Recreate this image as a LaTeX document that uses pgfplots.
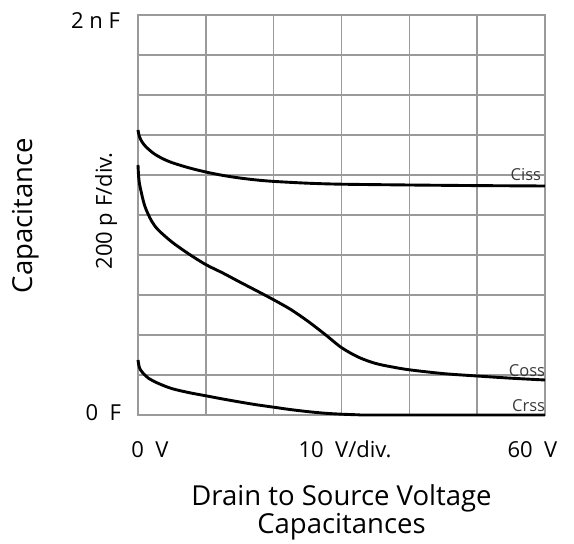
\documentclass[border=0pt]{standalone}
\usepackage{fontspec}
\setmainfont{Open Sans}
\usepackage{pgfplots}
\pgfplotsset{compat=1.18}
\definecolor{gridc}{HTML}{9A9A9A}
\definecolor{lblc}{HTML}{3A3A3A}
\begin{document}
\begin{tikzpicture}
\useasboundingbox (-138pt,-129pt) rectangle (436pt,415pt);
\begin{axis}[at={(0pt,0pt)}, anchor=south west, scale only axis,
  width=407pt, height=400pt,
  xmin=0, xmax=60, ymin=0, ymax=2000,
  xtick={0,10,...,60}, ytick={0,200,...,2000},
  xticklabels={}, yticklabels={},
  major tick length=0pt,
  grid=major, grid style={draw=gridc, line width=1.4pt},
  axis line style={draw=gridc, line width=1.6pt},
  clip=false]
\addplot[black, line width=2.9pt, smooth, tension=0.5] coordinates {
(0,1425) (0.2,1393) (0.6,1365) (1.2,1340) (2.3,1308) (3.5,1284) (5,1262)
(7.5,1236) (10,1215) (12.5,1198) (15,1185) (17.5,1175) (20,1168) (25,1159)
(30,1154) (40,1150) (50,1147) (60,1145)};
\addplot[black, line width=2.9pt, smooth, tension=0.5] coordinates {
(0,1250) (0.1,1190) (0.3,1142) (1,1045) (2,970) (3,925) (5,865) (7.5,805)
(10,752) (12.5,710) (15,665) (17.5,621) (20,576) (22.5,528) (25,470)
(27.5,405) (30,337) (32.5,289) (35,258) (37.5,240) (40,226) (45,207)
(50,195) (55,184) (60,175)};
\addplot[black, line width=2.9pt, smooth, tension=0.5] coordinates {
(0,275) (0.2,238) (0.6,215) (1.5,185) (3,158) (5,132) (7.5,112) (10,96)
(12.5,80) (15,65) (17.5,51) (20,39) (22.5,27) (25,17) (27.5,9) (30,4)
(32.5,1) (35,0) (60,0)};
\end{axis}
\begin{scope}[every node/.style={inner sep=0pt, outer sep=0pt}]
\node[anchor=base east, font=\fontsize{16.5}{18}\selectfont, text=lblc] at (403pt,234pt) {Ciss};
\node[anchor=base east, font=\fontsize{16.5}{18}\selectfont, text=lblc] at (407pt,38pt) {Coss};
\node[anchor=base east, font=\fontsize{16.5}{18}\selectfont, text=lblc] at (407pt,3pt) {Crss};
\node[anchor=base east, font=\fontsize{22}{24}\selectfont] at (-18pt,386pt) {2 n F};
\node[anchor=base east, font=\fontsize{22}{24}\selectfont] at (-17pt,-6pt) {0~~F};
\node[anchor=base, font=\fontsize{22}{24}\selectfont] at (12pt,-43pt) {0~~V};
\node[anchor=base, font=\fontsize{22}{24}\selectfont] at (207pt,-43pt) {10~~V/div.};
\node[anchor=base, font=\fontsize{22}{24}\selectfont] at (394.5pt,-43pt) {60~~V};
\node[anchor=base, rotate=90, font=\fontsize{22}{24}\selectfont] at (-26pt,204pt) {200 p F/div.};
\node[anchor=base, rotate=90, font=\fontsize{27.5}{28}\selectfont] at (-105pt,199.5pt) {Capacitance};
\node[anchor=base, font=\fontsize{27.5}{28}\selectfont] at (203.5pt,-91pt) {Drain to Source Voltage};
\node[anchor=base, font=\fontsize{27.5}{28}\selectfont] at (203.5pt,-118pt) {Capacitances};
\end{scope}
\end{tikzpicture}
\end{document}
